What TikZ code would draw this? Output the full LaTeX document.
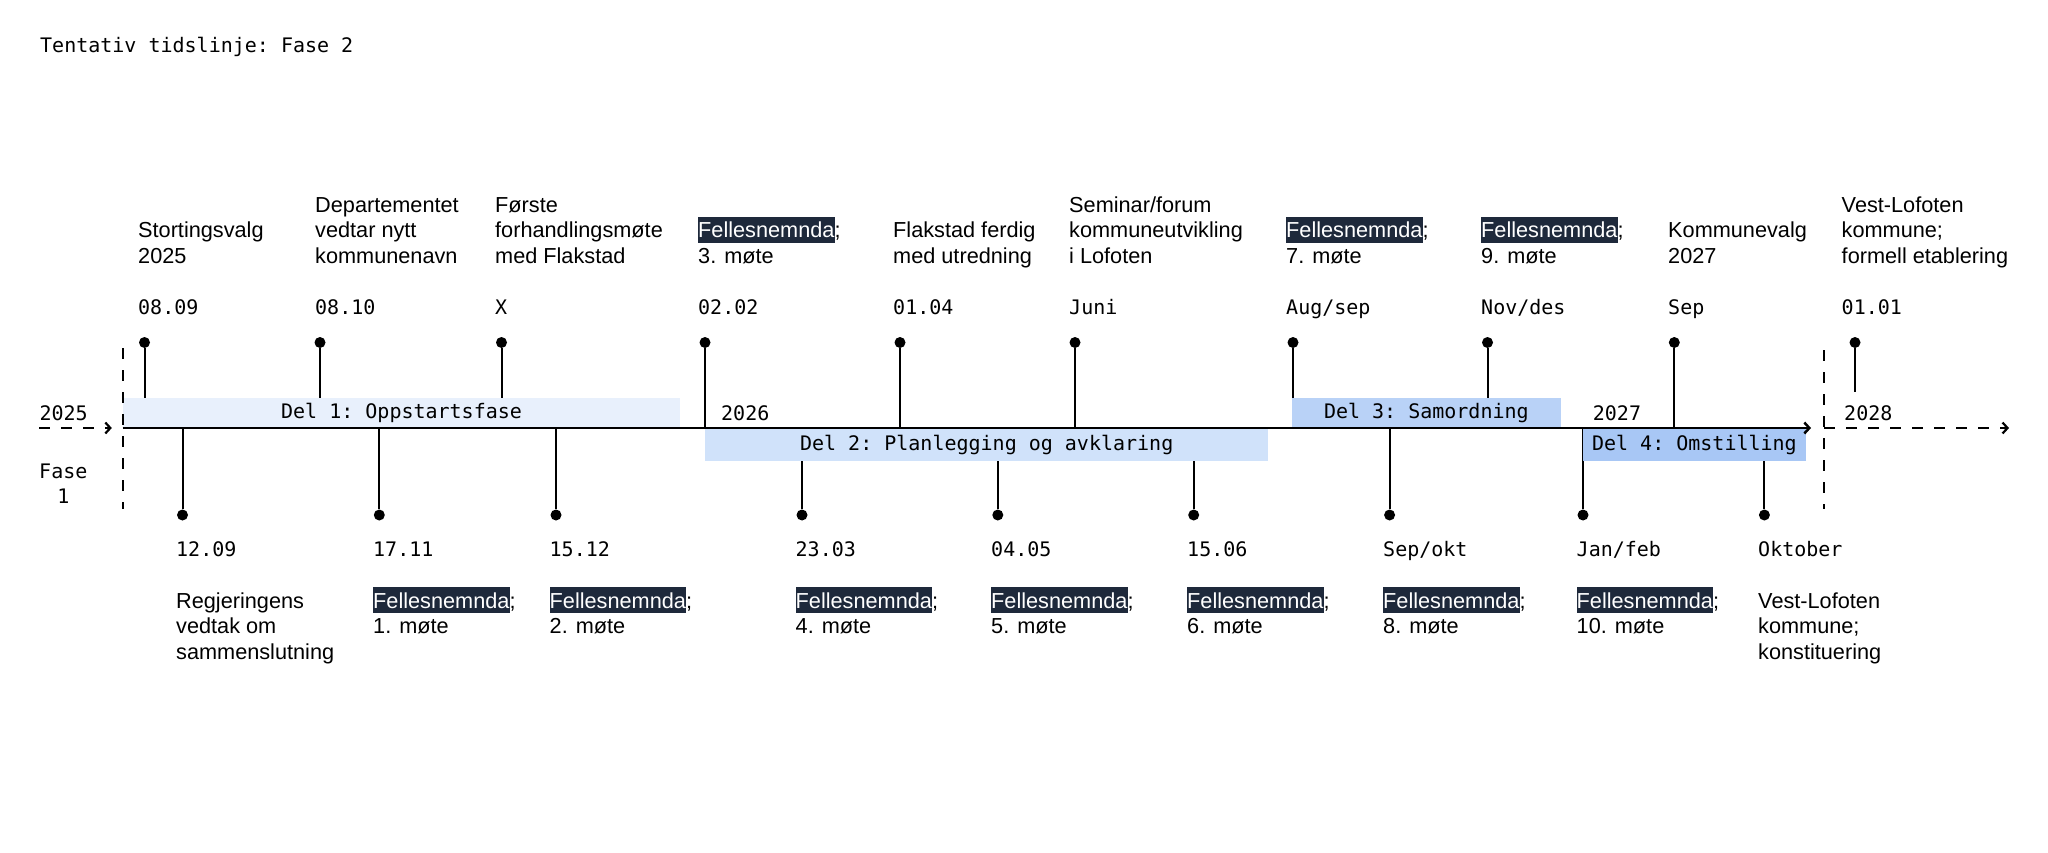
\documentclass[tikz,border=0pt]{standalone}
\usepackage{fontspec}
\setmainfont{Liberation Sans}
\setmonofont{DejaVu Sans Mono}
\usetikzlibrary{arrows.meta}
\definecolor{delA}{HTML}{E8F0FC}
\definecolor{delB}{HTML}{D0E2FA}
\definecolor{delC}{HTML}{B9D2F7}
\definecolor{delD}{HTML}{A8C7F5}
\definecolor{navy}{HTML}{1E293B}
\newcommand{\fellesbox}{{\setlength{\fboxsep}{0pt}\colorbox{navy}{\rule[-5pt]{0pt}{26pt}\textcolor{white}{Fellesnemnda}}}}

\begin{document}
\begin{tikzpicture}[x=1pt,y=-1pt,>={Straight Barb[length=5pt,width=11pt]},
  lbl/.style={anchor=base west,inner sep=0pt,align=left,font=\fontsize{21.7}{25.5}\selectfont},
  datelbl/.style={anchor=base west,inner sep=0pt,font=\ttfamily\fontsize{20}{25}\selectfont},
  pin/.style={circle,fill=black,inner sep=0pt,minimum size=11pt},
  stem/.style={line width=2pt},
  band/.style={anchor=north west,inner sep=0pt,font=\ttfamily\fontsize{20}{24}\selectfont},
  phase/.style={line width=2.2pt,dash pattern=on 11pt off 11pt},
]
\useasboundingbox (0,0) rectangle (2048,853);
%%
\node (title) at (40,53) [datelbl] {Tentativ tidslinje: Fase 2};
\coordinate (tl_start) at (122.7,428);
\coordinate (tl_end) at (1811,428);
\coordinate (fase1_in) at (39.3,428);
\coordinate (fase1_top) at (122.7,348);
\coordinate (fase1_bot) at (122.7,509);
\coordinate (fase3_top) at (1824.3,350);
\coordinate (fase3_bot) at (1824.3,509);
\coordinate (fase3_out) at (2009,428);
\coordinate (stub_end) at (1855,392);
%
  \node (text_top_0) at (138,263) [lbl] {Stortingsvalg\\2025};
  \node (text_top_1) at (315,263) [lbl] {Departementet\\vedtar nytt\\kommunenavn};
  \node (text_top_2) at (495,263) [lbl] {Første\\forhandlingsmøte\\med Flakstad};
  \node (text_top_3) at (698,263) [lbl] {\fellesbox;\\3. møte};
  \node (text_top_4) at (893,263) [lbl] {Flakstad ferdig\\med utredning};
  \node (text_top_5) at (1069,263) [lbl] {Seminar/forum\\kommuneutvikling\\i Lofoten};
  \node (text_top_6) at (1286,263) [lbl] {\fellesbox;\\7. møte};
  \node (text_top_7) at (1481,263) [lbl] {\fellesbox;\\9. møte};
  \node (text_top_8) at (1668,263) [lbl] {Kommunevalg\\2027};
  \node (text_top_9) at (1841.5,263) [lbl] {Vest-Lofoten\\kommune;\\formell etablering};
%
  \node (date_top_0) at (138,314) [datelbl] {08.09};
  \node (date_top_1) at (315,314) [datelbl] {08.10};
  \node (date_top_2) at (495,314) [datelbl] {X};
  \node (date_top_3) at (698,314) [datelbl] {02.02};
  \node (date_top_4) at (893,314) [datelbl] {01.04};
  \node (date_top_5) at (1069,314) [datelbl] {Juni};
  \node (date_top_6) at (1286,314) [datelbl] {Aug/sep};
  \node (date_top_7) at (1481,314) [datelbl] {Nov/des};
  \node (date_top_8) at (1668,314) [datelbl] {Sep};
  \node (date_top_9) at (1841.5,314) [datelbl] {01.01};
%
  \node (top_0) at (144.5,342.5) [pin] {};
  \node (top_1) at (320,342.5) [pin] {};
  \node (top_2) at (501.5,342.5) [pin] {};
  \node (top_3) at (705,342.5) [pin] {};
  \node (top_4) at (900,342.5) [pin] {};
  \node (top_5) at (1075,342.5) [pin] {};
  \node (top_6) at (1293,342.5) [pin] {};
  \node (top_7) at (1487.5,342.5) [pin] {};
  \node (top_8) at (1674.3,342.5) [pin] {};
  \node (top_9) at (1855,342.5) [pin] {};
%
  \node (bot_0) at (182.5,515) [pin] {};
  \node (bot_1) at (379.3,515) [pin] {};
  \node (bot_2) at (556,515) [pin] {};
  \node (bot_3) at (802,515) [pin] {};
  \node (bot_4) at (997.8,515) [pin] {};
  \node (bot_5) at (1193.7,515) [pin] {};
  \node (bot_6) at (1389.6,515) [pin] {};
  \node (bot_7) at (1583,515) [pin] {};
  \node (bot_8) at (1764.4,515) [pin] {};
%
  \node (date_bot_0) at (176,556.7) [datelbl] {12.09};
  \node (date_bot_1) at (373,556.7) [datelbl] {17.11};
  \node (date_bot_2) at (549.5,556.7) [datelbl] {15.12};
  \node (date_bot_3) at (795.5,556.7) [datelbl] {23.03};
  \node (date_bot_4) at (991,556.7) [datelbl] {04.05};
  \node (date_bot_5) at (1187,556.7) [datelbl] {15.06};
  \node (date_bot_6) at (1383,556.7) [datelbl] {Sep/okt};
  \node (date_bot_7) at (1576.5,556.7) [datelbl] {Jan/feb};
  \node (date_bot_8) at (1758,556.7) [datelbl] {Oktober};
%
  \node (text_bot_0) at (176,659.3) [lbl] {Regjeringens\\vedtak om\\sammenslutning};
  \node (text_bot_1) at (373,633.8) [lbl] {\fellesbox;\\1. møte};
  \node (text_bot_2) at (549.5,633.8) [lbl] {\fellesbox;\\2. møte};
  \node (text_bot_3) at (795.5,633.8) [lbl] {\fellesbox;\\4. møte};
  \node (text_bot_4) at (991,633.8) [lbl] {\fellesbox;\\5. møte};
  \node (text_bot_5) at (1187,633.8) [lbl] {\fellesbox;\\6. møte};
  \node (text_bot_6) at (1383,633.8) [lbl] {\fellesbox;\\8. møte};
  \node (text_bot_7) at (1576.5,633.8) [lbl] {\fellesbox;\\10. møte};
  \node (text_bot_8) at (1758,659.3) [lbl] {Vest-Lofoten\\kommune;\\konstituering};
%
  \draw [stem] (top_0) -- (top_0 |- tl_start);
  \draw [stem] (top_1) -- (top_1 |- tl_start);
  \draw [stem] (top_2) -- (top_2 |- tl_start);
  \draw [stem] (top_3) -- (top_3 |- tl_start);
  \draw [stem] (top_4) -- (top_4 |- tl_start);
  \draw [stem] (top_5) -- (top_5 |- tl_start);
  \draw [stem] (top_6) -- (top_6 |- tl_start);
  \draw [stem] (top_7) -- (top_7 |- tl_start);
  \draw [stem] (top_8) -- (top_8 |- tl_start);
  \draw [stem] (top_9) -- (stub_end);
  \draw [stem] (bot_0) -- (bot_0 |- tl_start);
  \draw [stem] (bot_1) -- (bot_1 |- tl_start);
  \draw [stem] (bot_2) -- (bot_2 |- tl_start);
  \draw [stem] (bot_3) -- (bot_3 |- tl_start);
  \draw [stem] (bot_4) -- (bot_4 |- tl_start);
  \draw [stem] (bot_5) -- (bot_5 |- tl_start);
  \draw [stem] (bot_6) -- (bot_6 |- tl_start);
  \draw [stem] (bot_7) -- (bot_7 |- tl_start);
  \draw [stem] (bot_8) -- (bot_8 |- tl_start);
%
  \node (band_1) at (122.7,397.3) [band,fill=delA,minimum width=557.3pt,minimum height=30.7pt] {Del 1: Oppstartsfase};
  \node (band_2) at (705,429.2) [band,fill=delB,minimum width=563pt,minimum height=31.8pt] {Del 2: Planlegging og avklaring};
  \node (band_3) at (1291.6,397.3) [band,fill=delC,minimum width=269.1pt,minimum height=30.7pt] {Del 3: Samordning};
  \node (band_4) at (1582.7,429.2) [band,fill=delD,minimum width=223pt,minimum height=31.8pt] {Del 4: Omstilling};
%
  \draw [line width=2.5pt,->] (tl_start) -- (tl_end);
  \draw [phase,->] (fase1_in) -- ++(72.5,0);
  \draw [phase] (fase1_top) -- (fase1_bot);
  \draw [phase] (fase3_top) -- (fase3_bot);
  \draw [phase,->] (fase3_top |- tl_start) -- (fase3_out);
%
  \node (year_0) at (39.3,420.7) [datelbl] {2025};
  \node (year_1) at (721,420.7) [datelbl] {2026};
  \node (year_2) at (1592.7,420.7) [datelbl] {2027};
  \node (year_3) at (1844,420.7) [datelbl] {2028};
  \node (fase_1) at (63.3,503.3) [datelbl,anchor=base,align=center] {Fase\\1};
%
\end{tikzpicture}
\end{document}
